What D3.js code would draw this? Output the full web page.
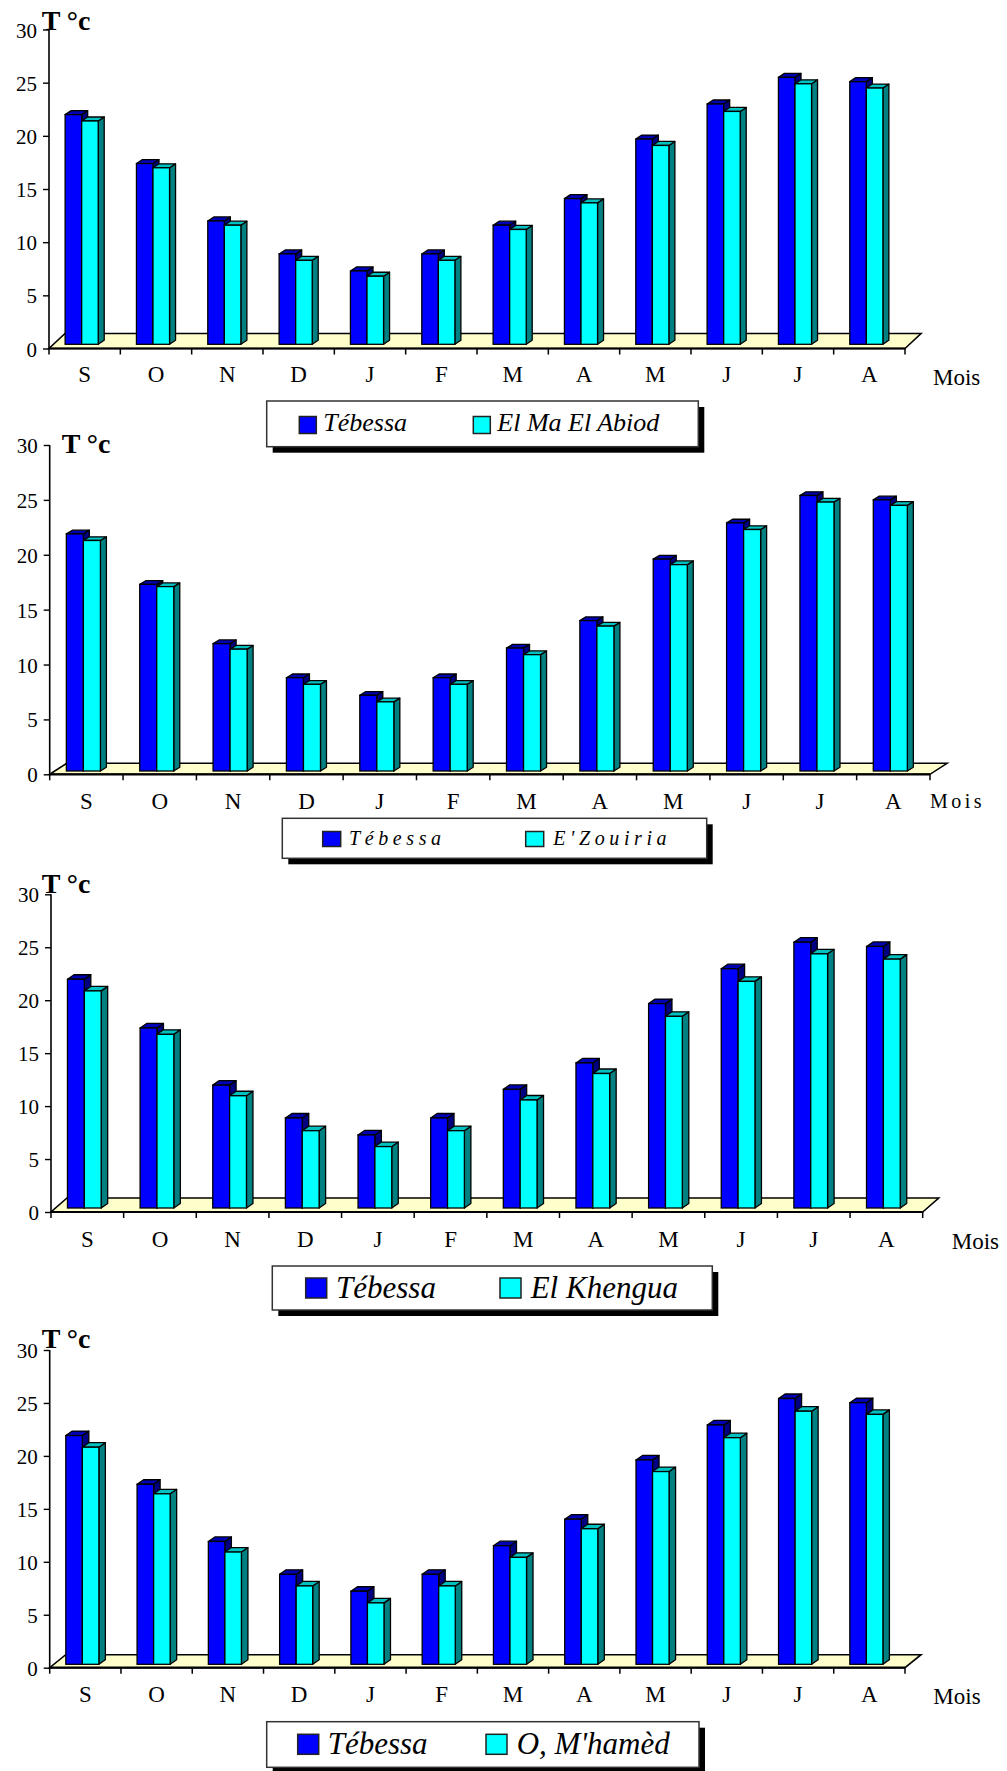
<!DOCTYPE html>
<html>
<head>
<meta charset="utf-8">
<script src="https://cdn.jsdelivr.net/npm/d3@7"></script>
<style>
html,body{margin:0;padding:0;background:#fff;}
svg{display:block;}
</style>
</head>
<body>
<svg id="chart" width="1007" height="1771"></svg>
<script>
// ---------- DATA ----------
const months = ["S","O","N","D","J","F","M","A","M","J","J","A"];
const yTicks = [0,5,10,15,20,25,30];
const tebessa     = [21.6,17.0,11.6,8.5,6.9,8.5,11.2,13.7,19.3,22.6,25.1,24.7];
const elMaElAbiod = [21.0,16.6,11.2,7.9,6.4,7.9,10.8,13.3,18.7,21.9,24.5,24.1];
const eZouiria    = [21.0,16.8,11.1,7.9,6.3,7.9,10.6,13.2,18.8,22.0,24.5,24.2];
const elKhengua   = [20.5,16.4,10.6,7.3,5.8,7.3,10.2,12.7,18.1,21.4,24.0,23.5];
const oMhamed     = [20.5,16.1,10.6,7.4,5.8,7.4,10.1,12.8,18.2,21.4,23.9,23.6];
const refName = "Tébessa";
const stationNames = ["El Ma El Abiod","E'Zouiria","El Khengua","O, M'hamèd"];
const stationSeries = [elMaElAbiod, eZouiria, elKhengua, oMhamed];
const yTitle = "T °c";
const xTitle = "Mois";

// ---------- LAYOUT ----------
const FONT = "'Liberation Serif', 'Times New Roman', 'DejaVu Serif', serif";
const layouts = [
  {xL:49, xR:905, y0:348.5, y30:29.5, fdx:16, fdy:-15, bdx:6, bdy:-4, base:-4.2,
   title:{x:41.7,y:29.5}, monthY:382, mois:{x:933,y:385,fs:23,ls:0},
   leg:{x:266.7,y:401,w:431.6,h:45.7,fs:26,ls:0,sqW:17,sqH:17,sqY:416.5,b:{x:299.3,t:323.3},c:{x:473.3,t:497.3},ty:431}},
  {xL:49.7, xR:930, y0:774.3, y30:445, fdx:17, fdy:-11, bdx:6, bdy:-3.7, base:-3.3,
   title:{x:61.7,y:453}, monthY:809, mois:{x:930,y:808,fs:20,ls:3.5},
   leg:{x:282.3,y:818.3,w:424.4,h:40,fs:20,ls:4.6,sqW:18,sqH:15,sqY:831.5,b:{x:322.7,t:349},c:{x:525.7,t:553.3},ty:845}},
  {xL:51, xR:922.7, y0:1212, y30:894.3, fdx:16, fdy:-14, bdx:6.5, bdy:-4.5, base:-4,
   title:{x:41.7,y:893}, monthY:1247, mois:{x:951.7,y:1249,fs:23,ls:0},
   leg:{x:272.3,y:1266,w:440,h:44,fs:31,ls:0,sqW:21,sqH:20,sqY:1278,b:{x:305.7,t:336},c:{x:500,t:530.7},ty:1298}},
  {xL:49.7, xR:905, y0:1667.7, y30:1350, fdx:16, fdy:-13, bdx:6.5, bdy:-4.5, base:-3.4,
   title:{x:41.7,y:1348}, monthY:1702, mois:{x:933.3,y:1704,fs:23,ls:0},
   leg:{x:266.7,y:1721.7,w:432.3,h:45.6,fs:31,ls:0,sqW:21,sqH:20,sqY:1734.3,b:{x:297.7,t:327.7},c:{x:486,t:516.7},ty:1754}}
];

const colors = {
  blue:{front:"#0000FF", top:"#0000B4", side:"#000080"},
  cyan:{front:"#00FFFF", top:"#00C0C0", side:"#008080"}
};

const svg = d3.select("#chart");

function txt(sel){ return sel.style("font-family", FONT).attr("fill","#000"); }

function drawChart(L, a, b, bName){
  const g = svg.append("g");
  const y = d3.scaleLinear().domain([0,30]).range([L.y0, L.y30]);
  const x = d3.scaleBand().domain(d3.range(months.length)).range([L.xL, L.xR]).padding(0);
  const bw = x.bandwidth()*0.232;

  // floor
  g.append("path")
    .attr("d", `M${L.xL},${L.y0}L${L.xR},${L.y0}L${L.xR+L.fdx},${L.y0+L.fdy}L${L.xL+L.fdx},${L.y0+L.fdy}Z`)
    .attr("fill","#FFFFCC").attr("stroke","#000").attr("stroke-width",1.6).attr("stroke-linejoin","miter");

  // bars
  function box(gg, x0, top, bot, col){
    const x1 = x0 + bw;
    gg.append("path").attr("d",`M${x1},${bot}L${x1+L.bdx},${bot+L.bdy}L${x1+L.bdx},${top+L.bdy}L${x1},${top}Z`)
      .attr("fill",col.side).attr("stroke","#000").attr("stroke-width",1.3).attr("stroke-linejoin","round");
    gg.append("path").attr("d",`M${x0},${top}L${x0+L.bdx},${top+L.bdy}L${x1+L.bdx},${top+L.bdy}L${x1},${top}Z`)
      .attr("fill",col.top).attr("stroke","#000").attr("stroke-width",1.3).attr("stroke-linejoin","round");
    gg.append("rect").attr("x",x0).attr("y",top).attr("width",bw).attr("height",bot-top)
      .attr("fill",col.front).attr("stroke","#000").attr("stroke-width",1.3);
  }
  months.forEach((m,i)=>{
    const c = x(i) + x.bandwidth()/2 - 3;
    const gg = g.append("g");
    const bot = y(0) + L.base;
    box(gg, c - bw, y(a[i]) + L.base, bot, colors.blue);
    box(gg, c, y(b[i]) + L.base, bot, colors.cyan);
  });

  // y axis
  const yAxis = d3.axisLeft(y).tickValues(yTicks).tickSize(6).tickPadding(6).tickFormat(d3.format("d"));
  const ya = g.append("g").attr("transform",`translate(${L.xL},0)`).call(yAxis)
    .attr("font-family", null).attr("font-size", null);
  ya.select(".domain").attr("d",`M0,${L.y30}V${L.y0}`).attr("stroke","#000").attr("stroke-width",1.6);
  ya.selectAll(".tick line").attr("stroke","#000").attr("stroke-width",1.4);
  txt(ya.selectAll(".tick text")).style("font-size","21px").attr("dy","0.36em");

  // x axis
  const edges = d3.range(months.length+1).map(i => i<months.length ? x(i) : L.xR);
  g.append("line").attr("x1",L.xL).attr("x2",L.xR).attr("y1",L.y0).attr("y2",L.y0)
    .attr("stroke","#000").attr("stroke-width",2.2);
  g.selectAll(".xt").data(edges).enter().append("line")
    .attr("x1",d=>d).attr("x2",d=>d).attr("y1",L.y0).attr("y2",L.y0+6)
    .attr("stroke","#000").attr("stroke-width",1.5);
  txt(g.selectAll(".xl").data(months).enter().append("text")
    .attr("x",(d,i)=>x(i)+x.bandwidth()/2).attr("y",L.monthY)
    .attr("text-anchor","middle").style("font-size","23px").text(d=>d));

  // titles
  txt(g.append("text").attr("x",L.title.x).attr("y",L.title.y).style("font-size","28px").style("font-weight","bold").text(yTitle));
  txt(g.append("text").attr("x",L.mois.x).attr("y",L.mois.y).style("font-size",L.mois.fs+"px")
    .style("letter-spacing",L.mois.ls+"px").text(xTitle));

  // legend
  const lg = L.leg;
  g.append("rect").attr("x",lg.x+6).attr("y",lg.y+6).attr("width",lg.w).attr("height",lg.h).attr("fill","#000");
  g.append("rect").attr("x",lg.x).attr("y",lg.y).attr("width",lg.w).attr("height",lg.h)
    .attr("fill","#fff").attr("stroke","#333").attr("stroke-width",1.5);
  [[lg.b, colors.blue.front],[lg.c, colors.cyan.front]].forEach(([p,col])=>{
    g.append("rect").attr("x",p.x).attr("y",lg.sqY).attr("width",lg.sqW).attr("height",lg.sqH)
      .attr("fill",col).attr("stroke","#222").attr("stroke-width",1.5);
  });
  txt(g.append("text").attr("x",lg.b.t).attr("y",lg.ty).style("font-size",lg.fs+"px").style("font-style","italic")
    .style("letter-spacing",lg.ls+"px").text(refName));
  txt(g.append("text").attr("x",lg.c.t).attr("y",lg.ty).style("font-size",lg.fs+"px").style("font-style","italic")
    .style("letter-spacing",lg.ls+"px").text(bName));
}

layouts.forEach((L,k)=> drawChart(L, tebessa, stationSeries[k], stationNames[k]));
</script>
</body>
</html>
